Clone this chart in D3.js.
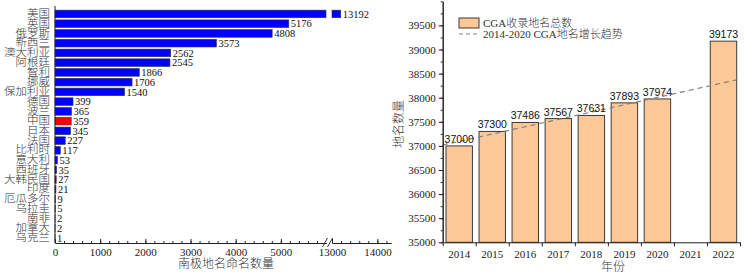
<!DOCTYPE html>
<html>
<head>
<meta charset="utf-8">
<script src="https://cdn.jsdelivr.net/npm/d3@7"></script>
<style>
    body { margin: 0; background: #fff; }
    svg { display: block; }
</style>
</head>
<body>
<svg id="chart"></svg>
<script>
// left panel: names given by each country
const countries = ["美国", "英国", "俄罗斯", "新西兰", "澳大利亚", "阿根廷", "智利", "挪威", "保加利亚", "德国", "波兰", "中国",
    "日本", "法国", "比利时", "意大利", "西班牙", "大韩民国", "印度", "厄瓜多尔", "乌拉圭", "南非", "加拿大", "乌克兰"];
const nameCounts = [13192, 5176, 4808, 3573, 2562, 2545, 1866, 1706, 1540, 399, 365, 359,
    345, 227, 117, 53, 35, 27, 21, 9, 5, 2, 2, 1];
const highlightCountry = "中国";
const lowTicks = [0, 1000, 2000, 3000, 4000, 5000];
const highTicks = [13000, 14000];

// right panel: CGA totals per year
const years = ["2014", "2015", "2016", "2017", "2018", "2019", "2020", "2021", "2022"];
const cgaYears = ["2014", "2015", "2016", "2017", "2018", "2019", "2020", "2022"];
const cgaTotals = [37000, 37300, 37486, 37567, 37631, 37893, 37974, 39173];
const trendYears = [2013.5, 2022.5];
const trendValues = [37018, 38386];
const rightTicks = [35000, 35500, 36000, 36500, 37000, 37500, 38000, 38500, 39000, 39500];

const serif = "'Liberation Serif', 'Noto Sans CJK SC', serif";
const sans = "'Liberation Sans', Arial, sans-serif";
const plain = d3.format("d");

const svg = d3.select("#chart")
    .attr("width", 749)
    .attr("height", 274)
    .attr("viewBox", [0, 0, 749, 274]);

/* ---------------- left chart ---------------- */
const breakLow = 6000;
const lx1 = d3.scaleLinear().domain([0, breakLow]).range([55, 326]);
const lx2 = d3.scaleLinear().domain([13000, 14300]).range([332, 391]);
const ly = d3.scaleBand().domain(countries).range([8, 244]).padding(0.22);
const axisY = 243;

const rows = countries.map((c, i) => ({ name: c, value: nameCounts[i] }));

const left = svg.append("g");

// bars, first segment
left.selectAll("rect.low")
    .data(rows)
    .join("rect")
    .attr("class", "low")
    .attr("x", lx1(0))
    .attr("y", d => ly(d.name))
    .attr("width", d => lx1(Math.min(d.value, breakLow)) - lx1(0))
    .attr("height", ly.bandwidth())
    .attr("fill", d => d.name === highlightCountry ? "#ff0000" : "#0000ff")
    .attr("stroke", "#333")
    .attr("stroke-width", 0.6);

// bars, part after the axis break
left.selectAll("rect.high")
    .data(rows.filter(d => d.value > breakLow))
    .join("rect")
    .attr("class", "high")
    .attr("x", lx2(13000))
    .attr("y", d => ly(d.name))
    .attr("width", d => lx2(d.value) - lx2(13000))
    .attr("height", ly.bandwidth())
    .attr("fill", "#0000ff")
    .attr("stroke", "#333")
    .attr("stroke-width", 0.6);

// value labels
left.selectAll("text.val")
    .data(rows)
    .join("text")
    .attr("class", "val")
    .attr("x", d => (d.value > breakLow ? lx2(d.value) : lx1(d.value)) + 2)
    .attr("y", d => ly(d.name) + ly.bandwidth() / 2)
    .attr("dy", "0.35em")
    .style("font-family", serif)
    .style("font-size", "10.5px")
    .attr("fill", "#111")
    .text(d => d.value);

// y axis with country names
const lyAxis = left.append("g")
    .attr("transform", `translate(${lx1(0)},0)`)
    .call(d3.axisLeft(ly).tickSize(0).tickPadding(5));
lyAxis.select(".domain").attr("d", `M0,6V${axisY}`).attr("stroke", "#222");
lyAxis.selectAll(".tick text")
    .style("font-family", serif)
    .style("font-size", "11.5px")
    .style("font-weight", 300)
    .attr("fill", "#333")
    .attr("transform", "scale(1,0.85)");

// x axis, low segment
const xa1 = left.append("g")
    .attr("transform", `translate(0,${axisY})`)
    .call(d3.axisBottom(lx1).tickValues(lowTicks).tickFormat(plain).tickSize(-4).tickSizeOuter(0).tickPadding(5));
left.append("g")
    .attr("transform", `translate(0,${axisY})`)
    .call(d3.axisBottom(lx1).tickValues(d3.range(0, breakLow, 200)).tickSize(-2).tickSizeOuter(0).tickFormat(""));

// x axis, high segment
const xa2 = left.append("g")
    .attr("transform", `translate(0,${axisY})`)
    .call(d3.axisBottom(lx2).tickValues(highTicks).tickFormat(plain).tickSize(-4).tickSizeOuter(0).tickPadding(5));
left.append("g")
    .attr("transform", `translate(0,${axisY})`)
    .call(d3.axisBottom(lx2).tickValues(d3.range(13000, 14300, 200)).tickSize(-2).tickSizeOuter(0).tickFormat(""));

[xa1, xa2].forEach(g => {
    g.selectAll(".tick text")
        .style("font-family", serif)
        .style("font-size", "11px")
        .attr("fill", "#222");
});
left.selectAll("path.domain, .tick line").attr("stroke", "#222");

// break marks
[lx1.range()[1] - 1, lx2.range()[0] - 2].forEach(x => {
    left.append("line")
        .attr("x1", x - 2.5).attr("y1", axisY + 4)
        .attr("x2", x + 2.5).attr("y2", axisY - 5)
        .attr("stroke", "#222")
        .attr("stroke-width", 0.9);
});

left.append("text")
    .attr("x", 226)
    .attr("y", 268)
    .attr("text-anchor", "middle")
    .style("font-family", serif)
    .style("font-size", "12px")
    .style("font-weight", 300)
    .attr("fill", "#333")
    .text("南极地名命名数量");

/* ---------------- right chart ---------------- */
const rx = d3.scaleBand().domain(years).range([442.7, 740]).paddingInner(0.2).paddingOuter(0.1);
const rxLin = d3.scaleLinear().domain([2013.5, 2022.5]).range([442.7, 740]);
const ry = d3.scaleLinear().domain([35000, 40000]).range([242.3, 1.3]);
const fillPeach = "#fdc897";

const right = svg.append("g");

const bars = cgaYears.map((y, i) => ({ year: y, value: cgaTotals[i] }));

right.selectAll("rect.bar")
    .data(bars)
    .join("rect")
    .attr("class", "bar")
    .attr("x", d => rx(d.year))
    .attr("y", d => ry(d.value))
    .attr("width", rx.bandwidth())
    .attr("height", d => ry(35000) - ry(d.value))
    .attr("fill", fillPeach)
    .attr("stroke", "#3a3a3a")
    .attr("stroke-width", 1);

// trend line 2014-2020
const trend = trendYears.map((y, i) => ({ year: y, value: trendValues[i] }));
const line = d3.line()
    .x(d => rxLin(d.year))
    .y(d => ry(d.value));
right.append("path")
    .attr("d", line(trend))
    .attr("fill", "none")
    .attr("stroke", "#808080")
    .attr("stroke-width", 1.2)
    .attr("stroke-dasharray", "5,4");

// value labels
right.selectAll("text.val")
    .data(bars)
    .join("text")
    .attr("class", "val")
    .attr("x", d => rx(d.year) + rx.bandwidth() / 2)
    .attr("y", d => ry(d.value) - 3)
    .attr("text-anchor", "middle")
    .style("font-family", sans)
    .style("font-size", "10.5px")
    .attr("fill", "#111")
    .text(d => d.value);

// y axis
const ryAxis = right.append("g")
    .attr("transform", `translate(${rxLin(2013.5)},0)`)
    .call(d3.axisLeft(ry).tickValues(rightTicks).tickFormat(plain).tickSize(4).tickSizeOuter(0).tickPadding(3));
right.append("g")
    .attr("transform", `translate(${rxLin(2013.5)},0)`)
    .call(d3.axisLeft(ry).tickValues(d3.range(35000, 40001, 250)).tickSize(2).tickSizeOuter(0).tickFormat(""));
ryAxis.selectAll(".tick text")
    .style("font-family", serif)
    .style("font-size", "11px")
    .attr("fill", "#222");

// x axis: labels centred, ticks between the bars
const rxAxis = right.append("g")
    .attr("transform", `translate(0,${ry(35000)})`)
    .call(d3.axisBottom(rx).tickSize(0).tickSizeOuter(0).tickPadding(8));
rxAxis.select(".domain").remove();
rxAxis.selectAll(".tick text")
    .style("font-family", serif)
    .style("font-size", "11px")
    .attr("fill", "#222");
right.append("g")
    .attr("transform", `translate(0,${ry(35000)})`)
    .call(d3.axisBottom(rxLin).tickValues(d3.range(2013.5, 2023, 1)).tickSize(4).tickSizeOuter(0).tickFormat(""));
right.selectAll("path.domain, .tick line").attr("stroke", "#222");

// axis titles
right.append("text")
    .attr("transform", `translate(399,124) rotate(-90)`)
    .attr("text-anchor", "middle")
    .attr("dy", "0.35em")
    .style("font-family", serif)
    .style("font-size", "12px")
    .style("font-weight", 300)
    .attr("fill", "#333")
    .text("地名数量");

right.append("text")
    .attr("x", 613)
    .attr("y", 271)
    .attr("text-anchor", "middle")
    .style("font-family", serif)
    .style("font-size", "12px")
    .style("font-weight", 300)
    .attr("fill", "#333")
    .text("年份");

// legend
const legend = right.append("g").attr("transform", "translate(459,18)");
legend.append("rect")
    .attr("x", 0).attr("y", 0)
    .attr("width", 20).attr("height", 10)
    .attr("fill", fillPeach)
    .attr("stroke", "#3a3a3a");
legend.append("text")
    .attr("x", 24).attr("y", 5)
    .attr("dy", "0.35em")
    .style("font-family", serif)
    .style("font-size", "11px")
    .style("font-weight", 300)
    .attr("fill", "#333")
    .text("CGA收录地名总数");
legend.append("line")
    .attr("x1", 0).attr("x2", 20)
    .attr("y1", 16).attr("y2", 16)
    .attr("stroke", "#808080")
    .attr("stroke-width", 1.2)
    .attr("stroke-dasharray", "4,3");
legend.append("text")
    .attr("x", 24).attr("y", 16)
    .attr("dy", "0.35em")
    .style("font-family", serif)
    .style("font-size", "11px")
    .style("font-weight", 300)
    .attr("fill", "#333")
    .text("2014-2020 CGA地名增长趋势");
</script>
</body>
</html>
